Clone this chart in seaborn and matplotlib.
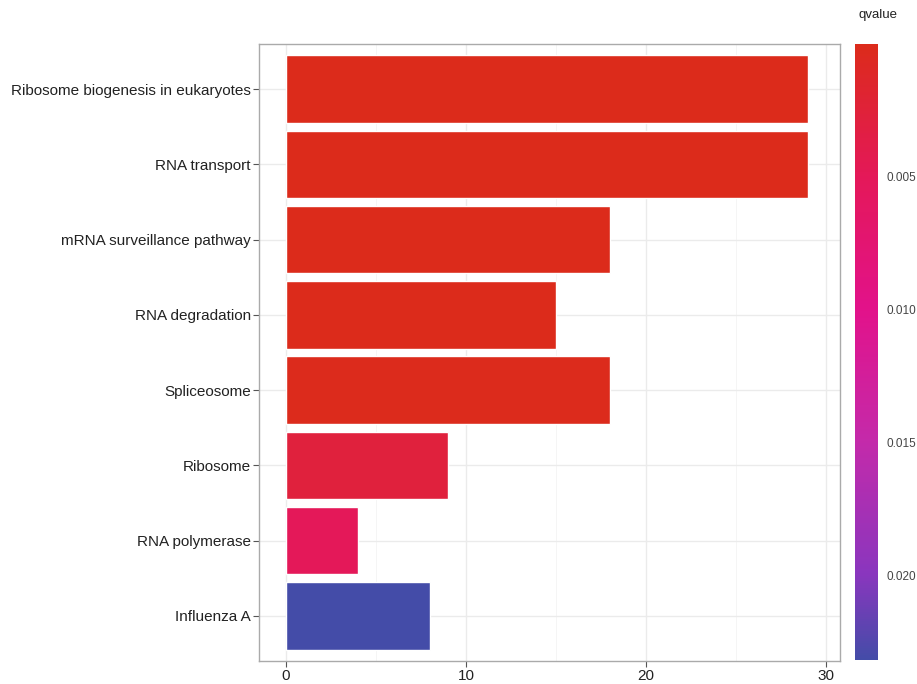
import matplotlib
matplotlib.use("Agg")
import matplotlib.pyplot as plt
import matplotlib.colors as mcolors
from matplotlib.ticker import MultipleLocator
import seaborn as sns
import pandas as pd

# KEGG pathway enrichment: gene counts and adjusted p-values
pathways = [
    "Ribosome biogenesis in eukaryotes",
    "RNA transport",
    "mRNA surveillance pathway",
    "RNA degradation",
    "Spliceosome",
    "Ribosome",
    "RNA polymerase",
    "Influenza A",
]
counts = [29, 29, 18, 15, 18, 9, 4, 8]
qvalues = [1.2e-9, 3.5e-7, 2.1e-5, 6.0e-5, 1.1e-4, 0.0028, 0.0050, 0.0232]

df = pd.DataFrame({"pathway": pathways, "count": counts, "qvalue": qvalues})

sns.set_theme(style="white")
plt.rcParams["font.family"] = ["Liberation Sans", "DejaVu Sans"]

# red (low q) -> blue (high q) gradient
cmap = mcolors.LinearSegmentedColormap.from_list(
    "qgrad",
    [(0.0, "#DC2B1B"), (0.22, "#E4185A"), (0.43, "#E2128A"),
     (0.645, "#C42AAA"), (0.86, "#8A36BE"), (1.0, "#444CA8")],
)
qmin, qmax = min(qvalues), max(qvalues)
norm = mcolors.Normalize(vmin=qmin, vmax=qmax)
palette = {p: cmap(norm(q)) for p, q in zip(pathways, qvalues)}

fig = plt.figure(figsize=(9.17, 6.84), dpi=100)
ax = fig.add_axes([259 / 917, 1 - 661 / 684, (840 - 259) / 917, (661 - 44) / 684])

sns.barplot(data=df, x="count", y="pathway", hue="pathway", palette=palette,
            order=pathways, width=0.9, legend=False, ax=ax, orient="h",
            saturation=1)

ax.set_xlim(-1.5, 30.78)
ax.set_ylim(len(pathways) - 0.4, -0.6)
ax.set_xlabel("")
ax.set_ylabel("")
ax.xaxis.set_major_locator(MultipleLocator(10))
ax.xaxis.set_minor_locator(MultipleLocator(5))
ax.grid(True, which="major", axis="both", color="#EBEBEB", linewidth=1.0)
ax.grid(True, which="minor", axis="x", color="#F4F4F4", linewidth=0.6)
ax.set_axisbelow(True)
for s in ax.spines.values():
    s.set_color("#AAAAAA")
    s.set_linewidth(1.0)
ax.tick_params(axis="both", which="major", length=4, width=0.8, color="#555555",
               labelsize=11, labelcolor="#222222", pad=2, direction="out")
ax.tick_params(axis="x", which="minor", length=0)
ax.tick_params(left=True, bottom=True)

# colour bar for qvalue
cax = fig.add_axes([855 / 917, 1 - 660 / 684, 23 / 917, (660 - 44) / 684])
sm = plt.cm.ScalarMappable(norm=norm, cmap=cmap)
cb = fig.colorbar(sm, cax=cax, ticks=[0.005, 0.010, 0.015, 0.020])
cb.outline.set_visible(False)
cax.invert_yaxis()
cb.ax.set_yticklabels(["0.005", "0.010", "0.015", "0.020"])
cax.tick_params(axis="y", length=4, width=0.8, color="white", direction="in",
                labelsize=8.5, labelcolor="#444444", pad=6)
fig.text(878 / 917, 1 - 15 / 684, "qvalue", ha="center", va="center",
         fontsize=9.5, color="#222222")

fig.savefig("out.png", dpi=100)
